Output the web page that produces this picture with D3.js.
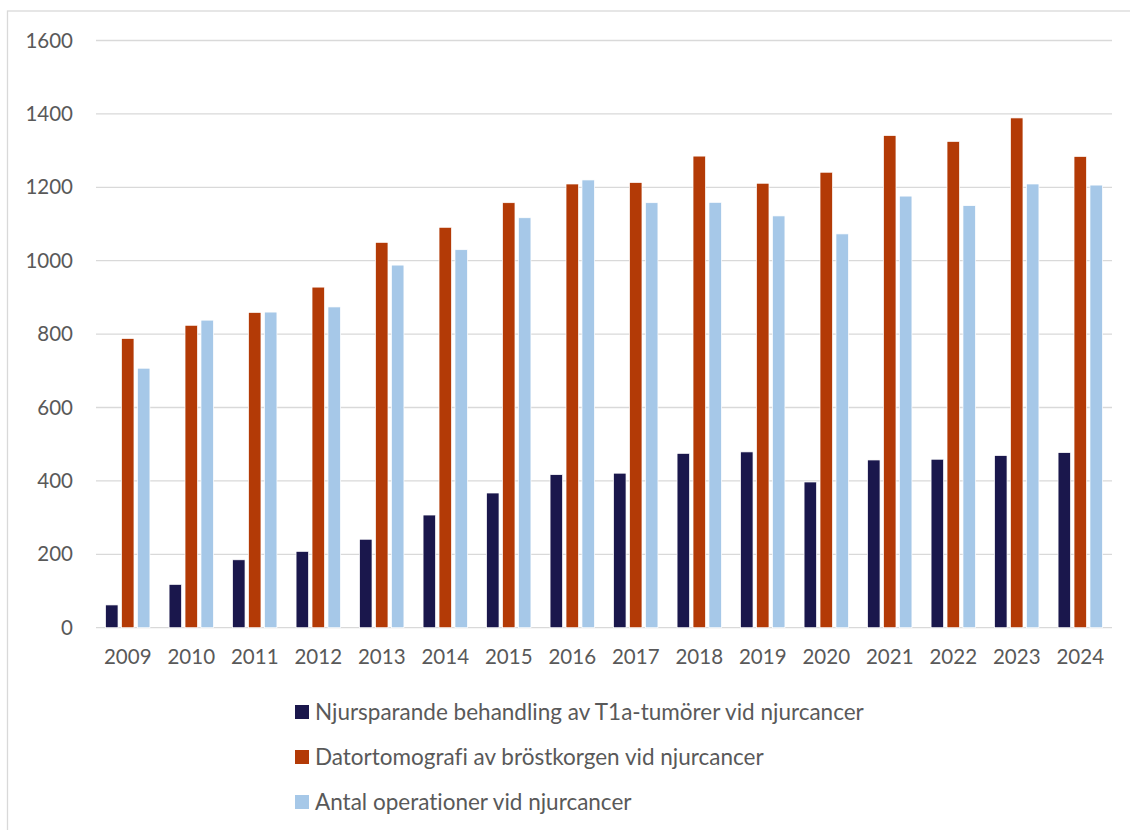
<!DOCTYPE html>
<html>
<head>
<meta charset="utf-8">
<script src="https://cdn.jsdelivr.net/npm/d3@7"></script>
<style>
  html, body { margin: 0; padding: 0; background: #ffffff; }
  svg { display: block; }
  text { font-family: Lato, "Open Sans", sans-serif; fill: #595959; font-variant-ligatures: none; }
</style>
</head>
<body>
<svg id="chart" width="1130" height="830"></svg>
<script>
// Years on the x axis
const years = ["2009","2010","2011","2012","2013","2014","2015","2016",
               "2017","2018","2019","2020","2021","2022","2023","2024"];

// Series names (legend order)
const seriesNames = [
  "Njursparande behandling av T1a-tumörer vid njurcancer",
  "Datortomografi av bröstkorgen vid njurcancer",
  "Antal operationer vid njurcancer"
];

// Series values per year
const njursparande = [62, 118, 185, 208, 241, 307, 367, 417, 421, 475, 479, 397, 457, 459, 469, 477];
const datortomografi = [788, 824, 859, 928, 1050, 1091, 1158, 1209, 1213, 1285, 1211, 1241, 1341, 1325, 1389, 1284];
const operationer = [707, 838, 860, 874, 988, 1030, 1117, 1220, 1158, 1159, 1122, 1073, 1176, 1150, 1209, 1206];

// Y axis ticks
const yTicks = [0, 200, 400, 600, 800, 1000, 1200, 1400, 1600];

const seriesColors = ["#1a174c", "#b33a06", "#a6c8e8"];
const seriesValues = [njursparande, datortomografi, operationer];

const svg = d3.select("#chart");

// Outer chart frame
svg.append("rect")
  .attr("x", 7.5).attr("y", 11)
  .attr("width", 1140).attr("height", 840)
  .attr("fill", "none")
  .attr("stroke", "#d9d9d9")
  .attr("stroke-width", 1.3);

const plot = { left: 96, right: 1112, top: 40.5, bottom: 627.7 };

const x = d3.scaleBand()
  .domain(years)
  .range([plot.left, plot.right])
  .paddingInner(0)
  .paddingOuter(0);

const y = d3.scaleLinear()
  .domain([0, 1600])
  .range([plot.bottom, plot.top]);

// Gridlines (including the zero baseline)
svg.append("g")
  .selectAll("line")
  .data(yTicks)
  .join("line")
  .attr("x1", plot.left).attr("x2", plot.right)
  .attr("y1", d => y(d)).attr("y2", d => y(d))
  .attr("stroke", "#d9d9d9")
  .attr("stroke-width", 1.3);

// Y axis labels
const yAxis = d3.axisLeft(y)
  .tickValues(yTicks)
  .tickFormat(d3.format("d"))
  .tickSize(0)
  .tickPadding(0);
const gy = svg.append("g")
  .attr("transform", `translate(73,0)`)
  .call(yAxis);
gy.select(".domain").remove();
gy.selectAll("text")
  .attr("font-size", 20.5)
  .attr("fill", "#595959")
  .style("font-family", "Lato, sans-serif");

// X axis labels
const xAxis = d3.axisBottom(x).tickSize(0).tickPadding(0);
const gx = svg.append("g")
  .attr("transform", `translate(0,${plot.bottom + 22})`)
  .call(xAxis);
gx.select(".domain").remove();
gx.selectAll("text")
  .attr("font-size", 20.5)
  .attr("fill", "#595959")
  .style("font-family", "Lato, sans-serif");

// Grouped bars
const inner = d3.scaleBand()
  .domain(d3.range(seriesNames.length))
  .range([0, x.bandwidth()])
  .paddingInner(0.22)
  .paddingOuter(0.6);

const groups = svg.append("g")
  .selectAll("g")
  .data(years)
  .join("g")
  .attr("transform", d => `translate(${x(d)},0)`);

groups.selectAll("rect")
  .data((d, i) => seriesValues.map((vals, s) => ({ s, v: vals[i] })))
  .join("rect")
  .attr("x", d => inner(d.s))
  .attr("width", inner.bandwidth())
  .attr("y", d => y(d.v))
  .attr("height", d => y(0) - y(d.v))
  .attr("fill", d => seriesColors[d.s])
  .attr("stroke", "#ffffff")
  .attr("stroke-width", 0.7);

// Legend
const legend = svg.append("g")
  .attr("transform", "translate(295,0)");
const legendRows = [712, 757, 802];
const items = legend.selectAll("g")
  .data(seriesNames)
  .join("g")
  .attr("transform", (d, i) => `translate(0,${legendRows[i]})`);
items.append("rect")
  .attr("x", 0).attr("y", -7)
  .attr("width", 14).attr("height", 14)
  .attr("fill", (d, i) => seriesColors[i]);
items.append("text")
  .attr("x", 20)
  .attr("y", 0)
  .attr("dy", "0.35em")
  .attr("font-size", 22.5)
  .text(d => d);
</script>
</body>
</html>
